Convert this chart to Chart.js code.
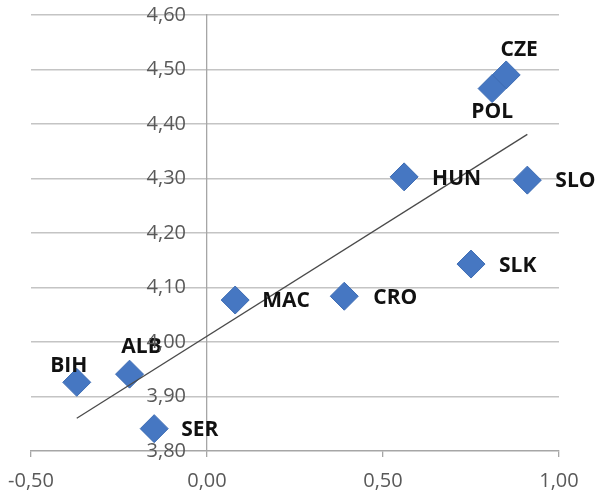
<!DOCTYPE html>
<html>
<head>
<meta charset="utf-8">
<script src="https://cdn.jsdelivr.net/npm/chart.js@4/dist/chart.umd.min.js"></script>
<style>
  html, body { margin: 0; padding: 0; background: #fff; }
  #wrap { width: 598px; height: 492px; }
</style>
</head>
<body>
<div id="wrap"><canvas id="chart"></canvas></div>
<script>
// country codes and their values (x, y)
const countries = ['CZE', 'POL', 'HUN', 'SLO', 'SLK', 'CRO', 'MAC', 'ALB', 'BIH', 'SER'];
const xValues = [0.85, 0.81, 0.56, 0.91, 0.75, 0.39, 0.08, -0.22, -0.37, -0.15];
const yValues = [4.49, 4.465, 4.303, 4.297, 4.143, 4.084, 4.077, 3.941, 3.926, 3.841];

// trend line end points
const trendX = [-0.37, 0.91];
const trendY = [3.86, 4.381];

// axis ticks
const xTicks = [-0.5, 0, 0.5, 1.0];
const yTicks = [3.8, 3.9, 4.0, 4.1, 4.2, 4.3, 4.4, 4.5, 4.6];

// where each label sits relative to its marker
const labelOffsets = {
    CZE: { dx: 13, dy: -25, align: 'center' },
    POL: { dx: 0, dy: 23, align: 'center' },
    HUN: { dx: 28, dy: 2, align: 'left' },
    SLO: { dx: 28, dy: 1, align: 'left' },
    SLK: { dx: 28, dy: 2, align: 'left' },
    CRO: { dx: 29, dy: 2, align: 'left' },
    MAC: { dx: 27, dy: 1, align: 'left' },
    ALB: { dx: 12, dy: -27, align: 'center' },
    BIH: { dx: -8, dy: -16, align: 'center' },
    SER: { dx: 27, dy: 1, align: 'left' }
};

const points = countries.map((c, i) => ({ x: xValues[i], y: yValues[i] }));
const trend = trendX.map((x, i) => ({ x: x, y: trendY[i] }));

const fmt = v => v.toFixed(2).replace('.', ',');

// y tick labels sit a bit left of the axis line at x = 0
const yLabels = {
    id: 'yLabels',
    afterDraw(chart) {
        const ctx = chart.ctx;
        const xs = chart.scales.x;
        const ys = chart.scales.y;
        const right = xs.getPixelForValue(0) - 21;
        ctx.save();
        ctx.font = '20px "Open Sans"';
        ctx.fillStyle = '#595959';
        ctx.textAlign = 'right';
        ctx.textBaseline = 'middle';
        yTicks.forEach(v => {
            ctx.fillText(fmt(v), right, ys.getPixelForValue(v));
        });
        ctx.restore();
    }
};

// draws the country codes next to the markers
const countryLabels = {
    id: 'countryLabels',
    afterDatasetsDraw(chart) {
        const ctx = chart.ctx;
        const meta = chart.getDatasetMeta(1);
        ctx.save();
        ctx.font = 'bold 21px "Open Sans"';
        ctx.fillStyle = '#111';
        ctx.textBaseline = 'middle';
        meta.data.forEach((pt, i) => {
            const o = labelOffsets[countries[i]];
            ctx.textAlign = o.align;
            ctx.fillText(countries[i], pt.x + o.dx, pt.y + o.dy);
        });
        ctx.restore();
    }
};

new Chart(document.getElementById('chart'), {
    type: 'scatter',
    data: {
        datasets: [
            {
                label: 'Trend',
                data: trend,
                showLine: true,
                borderColor: '#4a4a4a',
                borderWidth: 1.3,
                pointRadius: 0,
                fill: false
            },
            {
                label: 'Countries',
                data: points,
                pointStyle: 'rectRot',
                pointRadius: 14,
                pointHoverRadius: 14,
                backgroundColor: '#4677c2',
                borderColor: '#3d6cb3',
                borderWidth: 1
            }
        ]
    },
    options: {
        responsive: true,
        maintainAspectRatio: false,
        animation: false,
        layout: { padding: { left: 31, right: 39, top: 10, bottom: 0 } },
        plugins: {
            legend: { display: false },
            tooltip: { enabled: false }
        },
        scales: {
            x: {
                type: 'linear',
                min: -0.5,
                max: 1.0,
                afterBuildTicks: s => { s.ticks = xTicks.map(v => ({ value: v })); },
                afterFit: s => { s.height = 41; s.paddingLeft = 0; s.paddingRight = 0; },
                ticks: {
                    callback: v => fmt(v),
                    color: '#595959',
                    font: { family: 'Open Sans', size: 20 },
                    padding: 12,
                    maxRotation: 0
                },
                grid: {
                    drawOnChartArea: false,
                    drawTicks: true,
                    tickLength: 6,
                    color: '#a6a6a6',
                    lineWidth: 1.3
                },
                border: { display: true, color: '#a6a6a6', width: 1.3 }
            },
            y: {
                type: 'linear',
                min: 3.8,
                max: 4.6,
                position: { x: 0 },
                afterBuildTicks: s => { s.ticks = yTicks.map(v => ({ value: v })); },
                afterFit: s => { s.paddingTop = 0; s.paddingBottom = 0; },
                ticks: { display: false },
                grid: {
                    drawTicks: false,
                    color: '#c4c4c4',
                    lineWidth: 1.5
                },
                border: { display: true, color: '#a6a6a6', width: 1.3 }
            }
        }
    },
    plugins: [countryLabels, yLabels]
});
</script>
</body>
</html>
